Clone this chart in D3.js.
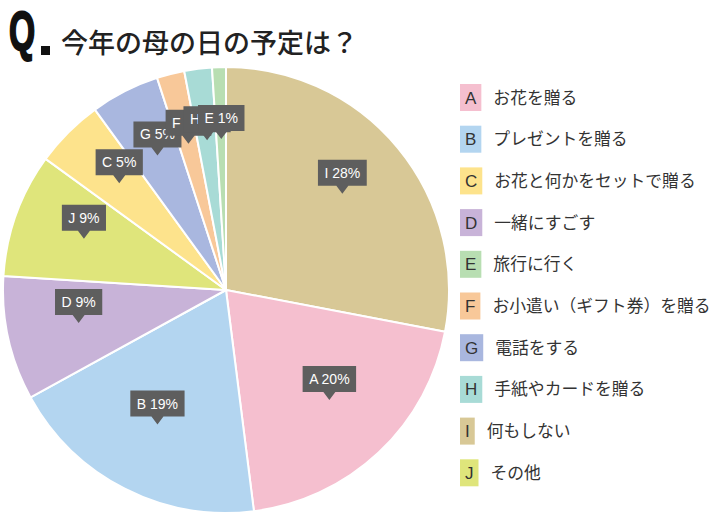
<!DOCTYPE html>
<html><head><meta charset="utf-8">
<script src="https://cdn.jsdelivr.net/npm/d3@7"></script>
<style>body{margin:0;background:#fff;}svg{display:block;}</style>
</head><body>
<svg id="c" width="721" height="521"></svg>
<script>
// Legend order
const letters = ["A","B","C","D","E","F","G","H","I","J"];
const names = ["お花を贈る","プレゼントを贈る","お花と何かをセットで贈る","一緒にすごす","旅行に行く","お小遣い（ギフト券）を贈る","電話をする","手紙やカードを贈る","何もしない","その他"];
const colors = ["#f5bfcf","#b3d5f0","#fde38c","#c8b3d8","#b8deb2","#f8c899","#a9b7df","#a8dbd6","#d8c896","#dfe57b"];
// Pie order (clockwise from top) and values (%)
const pieOrder = ["I","A","B","D","J","C","G","F","H","E"];
const pieValues = [28,20,19,9,9,5,5,2,2,1];
const title = "今年の母の日の予定は？";

const svg = d3.select("#c");
const cx = 226, cy = 290, R = 223, LR = 151;
const colorOf = d3.scaleOrdinal().domain(letters).range(colors);

// Title
svg.append("text").attr("transform","translate(9,50) scale(0.6,1)")
  .attr("font-family","Liberation Sans, Arial").attr("font-weight","bold")
  .attr("font-size",56).attr("fill","#111").attr("stroke","#111").attr("stroke-width",2.2)
  .text("Q");
svg.append("rect").attr("x",41).attr("y",46).attr("width",9).attr("height",9).attr("fill","#111");
svg.append("text").attr("x",61).attr("y",53)
  .attr("font-family","Noto Sans CJK JP").attr("font-weight","500")
  .attr("font-size",27).attr("fill","#222").text(title);

// Pie
const data = pieOrder.map((k,i)=>({key:k,value:pieValues[i]}));
const pie = d3.pie().value(d=>d.value).sort(null);
const arcs = pie(data);
const arc = d3.arc().innerRadius(0).outerRadius(R);
const g = svg.append("g").attr("transform",`translate(${cx},${cy})`);
g.selectAll("path").data(arcs).join("path")
  .attr("d",arc).attr("fill",d=>colorOf(d.data.key))
  .attr("stroke","#fff").attr("stroke-width",2).attr("stroke-linejoin","round");

// Labels (drawn in order so later ones overlap earlier, as in the reference)
const labelArc = d3.arc().innerRadius(LR).outerRadius(LR);
const lg = g.append("g").attr("font-family","Liberation Sans, Arial").attr("font-size",14);
arcs.forEach(d=>{
  const [x,y] = labelArc.centroid(d);
  const t = `${d.data.key} ${d.data.value}%`;
  const grp = lg.append("g").attr("transform",`translate(${x},${y})`);
  const txt = grp.append("text").attr("text-anchor","middle").attr("fill","#fff")
    .attr("x",0).attr("y",-16).text(t);
  const w = txt.node().getComputedTextLength() + 13;
  grp.insert("path","text")
    .attr("d",`M${-w/2},-34 H${w/2} V-8 H6 L0,0 L-6,-8 H${-w/2} Z`)
    .attr("fill","#5e5e5e");
});

// Legend
const leg = svg.append("g");
letters.forEach((L,i)=>{
  const y0 = 84 + i*41.7;
  const row = leg.append("g").attr("transform",`translate(460,${y0})`);
  const lt = row.append("text").attr("font-family","Liberation Sans, Arial").attr("font-size",17)
    .attr("fill","#333").attr("x",5).attr("y",19.5).text(L);
  const lw = lt.node().getComputedTextLength();
  row.insert("rect","text").attr("x",0).attr("y",0).attr("width",lw+10).attr("height",27)
    .attr("fill",colorOf(L));
  row.append("text").attr("font-family","Noto Sans CJK JP").attr("font-size",16.8)
    .attr("fill","#333").attr("x",lw+10+12).attr("y",19.5).text(names[i]);
});
</script>
</body></html>
